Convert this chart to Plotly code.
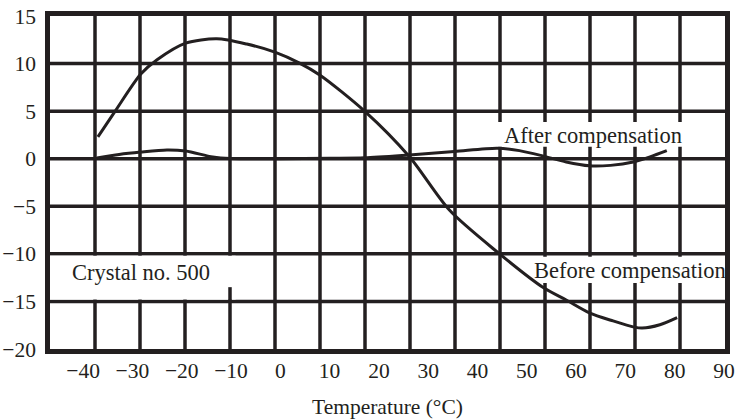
import plotly.graph_objects as go

# Frequency deviation of crystal no. 500 versus temperature
temp_before = [-37.0, -33.5, -28.3, -25.0, -19.2, -12.9, -6.8, -1.1, 3.9, 8.0,
               17.1, 26.2, 34.3, 44.0, 53.5, 58.0, 62.7, 67.5, 71.8, 73.4, 77.0, 80.5]
dev_before = [2.3, 5.0, 8.9, 10.4, 12.15, 12.6, 12.05, 11.2, 10.05, 8.8,
              5.0, 0.2, -5.4, -9.8, -13.6, -14.85, -16.2, -17.05, -17.7, -17.8, -17.45, -16.7]

temp_after = [-37.2, -32.7, -28.3, -23.0, -19.2, -13.7, -10.1, 0.0, 10.0, 17.1,
              26.2, 35.3, 44.0, 48.5, 53.2, 58.0, 62.7, 67.0, 71.6, 75.0, 78.4]
dev_after = [0.07, 0.45, 0.7, 0.92, 0.81, 0.18, 0.02, 0.0, 0.05, 0.1,
             0.4, 0.75, 1.1, 0.85, 0.3, -0.35, -0.75, -0.7, -0.35, 0.2, 0.85]

x_ticks = list(range(-40, 91, 10))
y_ticks = list(range(-20, 16, 5))

INK = "#231f20"
FONT = "Liberation Serif"

fig = go.Figure()
fig.add_trace(go.Scatter(x=temp_before, y=dev_before, mode="lines",
                         line=dict(color=INK, width=3, shape="spline", smoothing=0.8),
                         hoverinfo="skip", showlegend=False))
fig.add_trace(go.Scatter(x=temp_after, y=dev_after, mode="lines",
                         line=dict(color=INK, width=3, shape="spline", smoothing=0.8),
                         hoverinfo="skip", showlegend=False))

shapes = []
grid_w = 3.5
# vertical rulings: 15 equal columns across the plotting area
for i in range(1, 15):
    top = 1.013 if i == 2 else 1
    shapes.append(dict(type="line", xref="paper", yref="paper", x0=i / 15, x1=i / 15,
                       y0=0, y1=top, line=dict(color=INK, width=grid_w), layer="below"))
# horizontal rulings at every labelled value
for v in y_ticks[1:-1]:
    shapes.append(dict(type="line", xref="paper", yref="y", x0=0, x1=1, y0=v, y1=v,
                       line=dict(color=INK, width=grid_w), layer="below"))
# clear panels behind the captions
panels = [
    (0.0, 0.275, -10.2, -14.8),
    (0.652, 0.963, 3.86, 1.25),
    (0.7, 0.995, -10.3, -13.05),
]
for x0, x1, y0, y1 in panels:
    shapes.append(dict(type="rect", xref="paper", yref="y", x0=x0, x1=x1, y0=y0, y1=y1,
                       fillcolor="white", line=dict(width=0), layer="below"))
# short stub of the column rule that pokes into the caption panel
shapes.append(dict(type="line", xref="paper", yref="y", x0=4 / 15, x1=4 / 15,
                   y0=-13.5, y1=-15, line=dict(color=INK, width=grid_w), layer="below"))

fig.update_layout(
    width=737, height=419,
    margin=dict(l=50, r=12, t=16, b=70),
    paper_bgcolor="white", plot_bgcolor="white",
    font=dict(family=FONT, size=21, color=INK),
    shapes=shapes,
    xaxis=dict(range=[-46.72, 90.21], tickmode="array", tickvals=x_ticks,
               showgrid=False, zeroline=False, automargin=False,
               showline=True, mirror=True, linecolor=INK, linewidth=4.5,
               ticks="", ticklabelstandoff=-2,
               tickfont=dict(family=FONT, size=21.5, color=INK),
               title=dict(text="Temperature (°C)", standoff=22,
                          font=dict(family=FONT, size=21.5, color=INK))),
    yaxis=dict(range=[-20, 15], tickmode="array", tickvals=y_ticks,
               showgrid=False, zeroline=False, automargin=False,
               showline=True, mirror=True, linecolor=INK, linewidth=4.5,
               ticks="outside", ticklen=5, tickcolor="rgba(0,0,0,0)",
               tickfont=dict(family=FONT, size=21.5, color=INK)),
    annotations=[
        dict(text="After compensation", x=63.5, y=2.45, xref="x", yref="y",
             showarrow=False, font=dict(family=FONT, size=22.5, color=INK)),
        dict(text="Before compensation", x=71.0, y=-11.7, xref="x", yref="y",
             showarrow=False, font=dict(family=FONT, size=22.5, color=INK)),
        dict(text="Crystal no. 500", x=-28.2, y=-12.0, xref="x", yref="y",
             showarrow=False, font=dict(family=FONT, size=22.5, color=INK)),
    ],
)

fig.write_html("out.html")
